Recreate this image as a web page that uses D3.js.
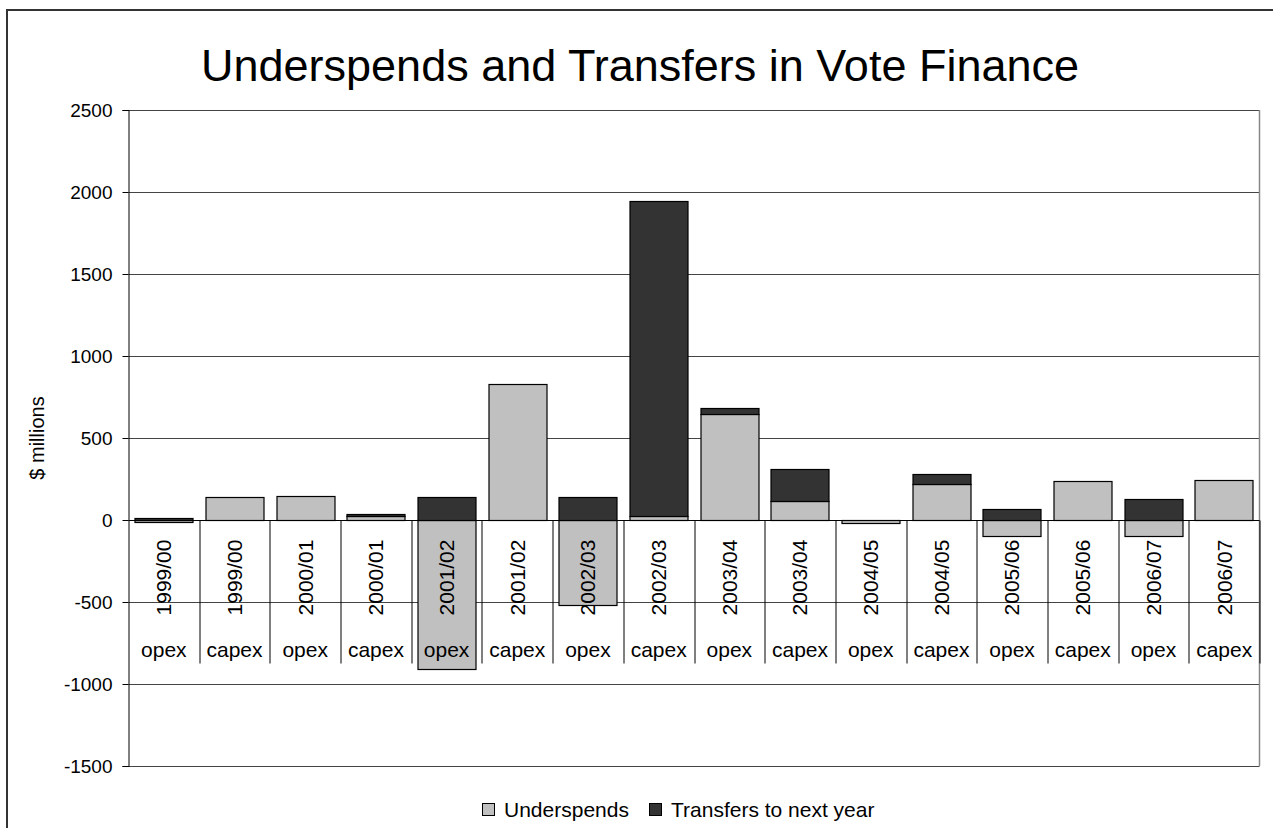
<!DOCTYPE html>
<html>
<head>
<meta charset="utf-8">
<script src="https://cdn.jsdelivr.net/npm/d3@7"></script>
<style>
  body { margin: 0; background: #fff; }
  svg { display: block; font-family: "Liberation Sans", Arial, sans-serif; }
</style>
</head>
<body>
<svg id="chart" width="1273" height="828"></svg>
<script>
// data ($ millions)
var years = ["1999/00","1999/00","2000/01","2000/01","2001/02","2001/02","2002/03","2002/03",
             "2003/04","2003/04","2004/05","2004/05","2005/06","2005/06","2006/07","2006/07"];
var types = ["opex","capex","opex","capex","opex","capex","opex","capex",
             "opex","capex","opex","capex","opex","capex","opex","capex"];
var underspends = [-10, 138, 146, 22, -910, 827, -518, 26, 646, 118, -20, 221, -96, 236, -96, 244];
var transfers   = [10, 0, 0, 14, 140, 0, 142, 1919, 39, 193, 0, 59, 65, 0, 130, 0];
var yTicks = [-1500, -1000, -500, 0, 500, 1000, 1500, 2000, 2500];
var seriesNames = ["Underspends", "Transfers to next year"];
var seriesColors = ["#c0c0c0", "#333333"];

var svg = d3.select("#chart"),
    margin = {top: 110, right: 13.5, bottom: 62, left: 128.5},
    width  = 1273 - margin.left - margin.right,
    height = 828 - margin.top - margin.bottom;

// outer chart frame (runs off the right and bottom of the picture)
svg.append("rect")
    .attr("x", 7).attr("y", 10)
    .attr("width", 1300).attr("height", 900)
    .attr("fill", "#fff")
    .attr("stroke", "#333").attr("stroke-width", 2);

svg.append("text")
    .attr("x", 640).attr("y", 81)
    .attr("text-anchor", "middle")
    .attr("font-size", "45px")
    .text("Underspends and Transfers in Vote Finance");

var g = svg.append("g")
    .attr("transform", `translate(${margin.left},${margin.top})`);

var idx = d3.range(years.length);
var xScale = d3.scaleBand().domain(idx).range([0, width]).paddingInner(0.175).paddingOuter(0.0875);
var yScale = d3.scaleLinear().domain([-1500, 2500]).range([height, 0]);

var rows = idx.map(i => ({i: i, u: underspends[i], t: transfers[i]}));
var stacked = d3.stack().keys(["u", "t"]).offset(d3.stackOffsetDiverging)(rows);

// gridlines
g.selectAll(".grid")
    .data(yTicks.filter(d => d !== 0))
    .enter().append("line")
    .attr("x1", 0).attr("x2", width)
    .attr("y1", d => Math.round(yScale(d)) + 0.5)
    .attr("y2", d => Math.round(yScale(d)) + 0.5)
    .attr("stroke", "#444");

// plot border right
g.append("path")
    .attr("d", `M${width},0V${height}`)
    .attr("stroke", "#888").attr("stroke-width", 1.5).attr("fill", "none");

// bars
g.selectAll(".series")
    .data(stacked)
    .enter().append("g")
    .attr("fill", (d, k) => seriesColors[k])
    .selectAll("rect")
    .data(d => d)
    .enter().append("rect")
    .attr("x", d => Math.round(xScale(d.data.i)) + 0.5)
    .attr("y", d => Math.round(yScale(Math.max(d[0], d[1]))) + 0.5)
    .attr("width", Math.round(xScale.bandwidth()))
    .attr("height", d => Math.round(Math.abs(yScale(d[0]) - yScale(d[1]))))
    .attr("stroke", "#000")
    .attr("stroke-width", 1.2);

// y axis
var yAxis = g.append("g")
    .call(d3.axisLeft(yScale).tickValues(yTicks).tickSize(6).tickPadding(10).tickFormat(d => String(d)));
yAxis.selectAll("text").attr("font-size", "19px").attr("fill", "#000");
yAxis.selectAll("line").attr("stroke", "#000");
yAxis.select(".domain").attr("stroke", "#000");
yAxis.attr("font-family", null);

// category axis at zero
var y0 = Math.round(yScale(0)) + 0.5;
g.append("line")
    .attr("x1", 0).attr("x2", width)
    .attr("y1", y0).attr("y2", y0)
    .attr("stroke", "#000");

var step = xScale.step();
g.selectAll(".sep")
    .data(idx)
    .enter().append("line")
    .attr("x1", i => Math.round((i + 1) * step) + 0.5)
    .attr("x2", i => Math.round((i + 1) * step) + 0.5)
    .attr("y1", y0).attr("y2", y0 + 143)
    .attr("stroke", "#000");

g.selectAll(".year")
    .data(idx)
    .enter().append("text")
    .attr("transform", i => `translate(${xScale(i) + xScale.bandwidth() / 2},${y0 + 57}) rotate(-90)`)
    .attr("text-anchor", "middle")
    .attr("dy", "0.35em")
    .attr("font-size", "21px")
    .text(i => years[i]);

g.selectAll(".type")
    .data(idx)
    .enter().append("text")
    .attr("x", i => xScale(i) + xScale.bandwidth() / 2)
    .attr("y", y0 + 136)
    .attr("text-anchor", "middle")
    .attr("font-size", "21px")
    .text(i => types[i]);

// y axis title
svg.append("text")
    .attr("transform", `translate(44,${margin.top + yScale(1000) + 82}) rotate(-90)`)
    .attr("text-anchor", "middle")
    .attr("font-size", "20px")
    .text("$ millions");

// legend
var legendX = [482, 649];
var legend = svg.selectAll(".legend")
    .data(seriesNames)
    .enter().append("g")
    .attr("transform", (d, k) => `translate(${legendX[k]},803)`);
legend.append("rect")
    .attr("x", 0.5).attr("y", 0.5)
    .attr("width", 12).attr("height", 12)
    .attr("fill", (d, k) => seriesColors[k])
    .attr("stroke", "#000");
legend.append("text")
    .attr("x", 22).attr("y", 13.5)
    .attr("font-size", "21px")
    .text(d => d);
</script>
</body>
</html>
